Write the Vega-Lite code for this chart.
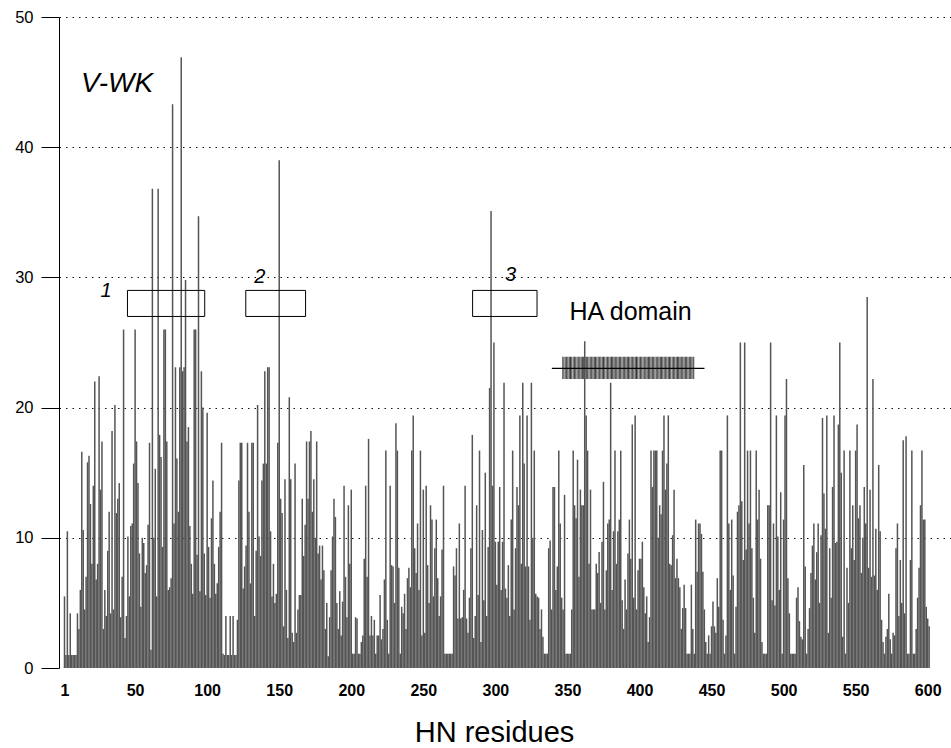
{
"$schema": "https://vega.github.io/schema/vega-lite/v6.json",
"width": 892, "height": 651,
"autosize": {"type": "none"},
"padding": {"left": 59, "top": 17, "right": 0, "bottom": 80},
"background": "white",
"config": {"view": {"stroke": null}, "font": "Liberation Sans"},
"resolve": {"axis": {"x": "independent", "y": "independent"}},
"layer": [
{
"data": {"values": [{"r": 346.4, "r2": 438, "v": 22.2, "v2": 23.9}]},
"mark": {"type": "rect", "fill": {"gradient": "linear", "x1": 0, "x2": 1, "y1": 0, "y2": 0, "stops": [
{"offset": 0, "color": "#3c3c3c"},{"offset": 0.0156, "color": "#a8a8a8"},{"offset": 0.0313, "color": "#505050"},{"offset": 0.0469, "color": "#a0a0a0"},
{"offset": 0.0625, "color": "#383838"},{"offset": 0.0781, "color": "#b0b0b0"},{"offset": 0.0938, "color": "#484848"},{"offset": 0.1094, "color": "#a8a8a8"},
{"offset": 0.125, "color": "#5a5a5a"},{"offset": 0.1406, "color": "#9c9c9c"},{"offset": 0.1563, "color": "#3a3a3a"},{"offset": 0.1719, "color": "#a8a8a8"},
{"offset": 0.1875, "color": "#444444"},{"offset": 0.2031, "color": "#b0b0b0"},{"offset": 0.2188, "color": "#505050"},{"offset": 0.2344, "color": "#a4a4a4"},
{"offset": 0.25, "color": "#3c3c3c"},{"offset": 0.2656, "color": "#a8a8a8"},{"offset": 0.2813, "color": "#585858"},{"offset": 0.2969, "color": "#a0a0a0"},
{"offset": 0.3125, "color": "#404040"},{"offset": 0.3281, "color": "#b0b0b0"},{"offset": 0.3438, "color": "#4c4c4c"},{"offset": 0.3594, "color": "#a8a8a8"},
{"offset": 0.375, "color": "#3a3a3a"},{"offset": 0.3906, "color": "#9c9c9c"},{"offset": 0.4063, "color": "#545454"},{"offset": 0.4219, "color": "#a8a8a8"},
{"offset": 0.4375, "color": "#404040"},{"offset": 0.4531, "color": "#b0b0b0"},{"offset": 0.4688, "color": "#4a4a4a"},{"offset": 0.4844, "color": "#a4a4a4"},
{"offset": 0.5, "color": "#3c3c3c"},{"offset": 0.5156, "color": "#a8a8a8"},{"offset": 0.5313, "color": "#565656"},{"offset": 0.5469, "color": "#a0a0a0"},
{"offset": 0.5625, "color": "#383838"},{"offset": 0.5781, "color": "#b0b0b0"},{"offset": 0.5938, "color": "#484848"},{"offset": 0.6094, "color": "#a8a8a8"},
{"offset": 0.625, "color": "#5a5a5a"},{"offset": 0.6406, "color": "#9c9c9c"},{"offset": 0.6563, "color": "#3a3a3a"},{"offset": 0.6719, "color": "#a8a8a8"},
{"offset": 0.6875, "color": "#444444"},{"offset": 0.7031, "color": "#b0b0b0"},{"offset": 0.7188, "color": "#505050"},{"offset": 0.7344, "color": "#a4a4a4"},
{"offset": 0.75, "color": "#3c3c3c"},{"offset": 0.7656, "color": "#a8a8a8"},{"offset": 0.7813, "color": "#585858"},{"offset": 0.7969, "color": "#a0a0a0"},
{"offset": 0.8125, "color": "#404040"},{"offset": 0.8281, "color": "#b0b0b0"},{"offset": 0.8438, "color": "#4c4c4c"},{"offset": 0.8594, "color": "#a8a8a8"},
{"offset": 0.875, "color": "#3a3a3a"},{"offset": 0.8906, "color": "#9c9c9c"},{"offset": 0.9063, "color": "#545454"},{"offset": 0.9219, "color": "#a8a8a8"},
{"offset": 0.9375, "color": "#404040"},{"offset": 0.9531, "color": "#b0b0b0"},{"offset": 0.9688, "color": "#4a4a4a"},{"offset": 0.9844, "color": "#a4a4a4"},
{"offset": 1, "color": "#3c3c3c"}]}},
"encoding": {
"x": {"field": "r", "type": "quantitative", "scale": {"domain": [0.66, 612.7], "nice": false, "zero": false}, "axis": null},
"x2": {"field": "r2"},
"y": {"field": "v", "type": "quantitative", "scale": {"domain": [0, 50], "nice": false}, "axis": null},
"y2": {"field": "v2"}
}
},
{
"data": {"values": [
{"r":1,"v":5.5},{"r":2,"v":1},{"r":3,"v":10.5},{"r":4,"v":1},{"r":5,"v":4.2},{"r":6,"v":1},{"r":7,"v":1},{"r":8,"v":1},{"r":9,"v":1},{"r":10,"v":4.2},
{"r":11,"v":3},{"r":12,"v":6},{"r":13,"v":16.6},{"r":14,"v":10.6},{"r":15,"v":4.5},{"r":16,"v":7},{"r":17,"v":15.8},{"r":18,"v":16.3},{"r":19,"v":12.6},{"r":20,"v":8},
{"r":21,"v":14},{"r":22,"v":22},{"r":23,"v":6.8},{"r":24,"v":8},{"r":25,"v":22.4},{"r":26,"v":13.7},{"r":27,"v":17.4},{"r":28,"v":3},{"r":29,"v":6},{"r":30,"v":4},
{"r":31,"v":9},{"r":32,"v":12},{"r":33,"v":4.2},{"r":34,"v":18.2},{"r":35,"v":4.5},{"r":36,"v":20.2},{"r":37,"v":11.9},{"r":38,"v":13},{"r":39,"v":14.2},{"r":40,"v":3.9},
{"r":41,"v":7},{"r":42,"v":26},{"r":43,"v":2.3},{"r":44,"v":4},{"r":45,"v":10.1},{"r":46,"v":5.5},{"r":47,"v":10.9},{"r":48,"v":11.1},{"r":49,"v":15.7},{"r":50,"v":26},
{"r":51,"v":17.4},{"r":52,"v":14.2},{"r":53,"v":8.8},{"r":54,"v":4.7},{"r":55,"v":10},{"r":56,"v":9.6},{"r":57,"v":7.3},{"r":58,"v":7.9},{"r":59,"v":11},{"r":60,"v":17.3},
{"r":61,"v":1.4},{"r":62,"v":36.8},{"r":63,"v":10},{"r":64,"v":15.3},{"r":65,"v":5.5},{"r":66,"v":36.8},{"r":67,"v":17.9},{"r":68,"v":16.2},{"r":69,"v":9.3},{"r":70,"v":26},
{"r":71,"v":26},{"r":72,"v":17.4},{"r":73,"v":6},{"r":74,"v":6.2},{"r":75,"v":6.9},{"r":76,"v":43.3},{"r":77,"v":11.1},{"r":78,"v":23.1},{"r":79,"v":16.1},{"r":80,"v":12},
{"r":81,"v":23.1},{"r":82,"v":46.9},{"r":83,"v":22.8},{"r":84,"v":23.1},{"r":85,"v":29.8},{"r":86,"v":17.4},{"r":87,"v":18.5},{"r":88,"v":10.9},{"r":89,"v":8},{"r":90,"v":5.7},
{"r":91,"v":26},{"r":92,"v":26},{"r":93,"v":8.7},{"r":94,"v":34.7},{"r":95,"v":5.9},{"r":96,"v":22.8},{"r":97,"v":20},{"r":98,"v":8.8},{"r":99,"v":5.6},{"r":100,"v":19.6},
{"r":101,"v":9.3},{"r":102,"v":5.4},{"r":103,"v":11.5},{"r":104,"v":14.4},{"r":105,"v":8},{"r":106,"v":5.7},{"r":107,"v":6.5},{"r":108,"v":9.3},{"r":109,"v":12},{"r":110,"v":17.3},
{"r":111,"v":1.1},{"r":112,"v":1},{"r":113,"v":4},{"r":114,"v":1},{"r":115,"v":1},{"r":116,"v":4},{"r":117,"v":1},{"r":118,"v":4},{"r":119,"v":1},{"r":120,"v":1},
{"r":121,"v":3.7},{"r":122,"v":14.4},{"r":123,"v":17.3},{"r":124,"v":17.3},{"r":125,"v":6.1},{"r":126,"v":7.8},{"r":127,"v":9.4},{"r":128,"v":17.3},{"r":129,"v":12},{"r":130,"v":6.5},
{"r":131,"v":17.3},{"r":132,"v":17.3},{"r":133,"v":4},{"r":134,"v":9},{"r":135,"v":20.2},{"r":136,"v":10.1},{"r":137,"v":8.6},{"r":138,"v":14.4},{"r":139,"v":15.7},{"r":140,"v":22.8},
{"r":141,"v":15.7},{"r":142,"v":23.1},{"r":143,"v":23.1},{"r":144,"v":10.5},{"r":145,"v":5.5},{"r":146,"v":8},{"r":147,"v":5},{"r":148,"v":5.7},{"r":149,"v":17.3},{"r":150,"v":39},
{"r":151,"v":13},{"r":152,"v":11.9},{"r":153,"v":3.2},{"r":154,"v":14.5},{"r":155,"v":6},{"r":156,"v":2.3},{"r":157,"v":20.8},{"r":158,"v":14.5},{"r":159,"v":2.7},{"r":160,"v":2},
{"r":161,"v":15.7},{"r":162,"v":2.7},{"r":163,"v":4.5},{"r":164,"v":5.6},{"r":165,"v":5.6},{"r":166,"v":13},{"r":167,"v":8.6},{"r":168,"v":11},{"r":169,"v":17.4},{"r":170,"v":13},
{"r":171,"v":17.4},{"r":172,"v":18.2},{"r":173,"v":12},{"r":174,"v":14.5},{"r":175,"v":10},{"r":176,"v":17.4},{"r":177,"v":8.8},{"r":178,"v":9.4},{"r":179,"v":6.8},{"r":180,"v":9.4},
{"r":181,"v":7.5},{"r":182,"v":3},{"r":183,"v":5},{"r":184,"v":0.9},{"r":185,"v":3.9},{"r":186,"v":7.5},{"r":187,"v":10.1},{"r":188,"v":13},{"r":189,"v":11.6},{"r":190,"v":5},
{"r":191,"v":3},{"r":192,"v":5.9},{"r":193,"v":2.5},{"r":194,"v":5.1},{"r":195,"v":14},{"r":196,"v":7},{"r":197,"v":3.9},{"r":198,"v":12.5},{"r":199,"v":8},{"r":200,"v":13.7},
{"r":201,"v":1.1},{"r":202,"v":1.1},{"r":203,"v":3.9},{"r":204,"v":3.8},{"r":205,"v":1.1},{"r":206,"v":1.1},{"r":207,"v":2},{"r":208,"v":2.5},{"r":209,"v":8.4},{"r":210,"v":14},
{"r":211,"v":7},{"r":212,"v":17.6},{"r":213,"v":2.5},{"r":214,"v":4},{"r":215,"v":2.5},{"r":216,"v":3.7},{"r":217,"v":1.1},{"r":218,"v":2.5},{"r":219,"v":2.5},{"r":220,"v":5.6},
{"r":221,"v":2.2},{"r":222,"v":3},{"r":223,"v":6.8},{"r":224,"v":16.7},{"r":225,"v":3.7},{"r":226,"v":1.1},{"r":227,"v":14},{"r":228,"v":7.9},{"r":229,"v":7.8},{"r":230,"v":5},
{"r":231,"v":18.8},{"r":232,"v":16.7},{"r":233,"v":7.7},{"r":234,"v":1.1},{"r":235,"v":4.7},{"r":236,"v":4.2},{"r":237,"v":5.7},{"r":238,"v":3},{"r":239,"v":6.9},{"r":240,"v":7.7},
{"r":241,"v":6.2},{"r":242,"v":16.7},{"r":243,"v":19.4},{"r":244,"v":9.2},{"r":245,"v":7.3},{"r":246,"v":11.1},{"r":247,"v":6},{"r":248,"v":16.7},{"r":249,"v":2.5},{"r":250,"v":13.7},
{"r":251,"v":2.7},{"r":252,"v":14},{"r":253,"v":7.9},{"r":254,"v":5},{"r":255,"v":12.5},{"r":256,"v":11.4},{"r":257,"v":5.5},{"r":258,"v":9.2},{"r":259,"v":11.4},{"r":260,"v":6.9},
{"r":261,"v":4},{"r":262,"v":5.5},{"r":263,"v":9.1},{"r":264,"v":14},{"r":265,"v":1.1},{"r":266,"v":1.1},{"r":267,"v":1.1},{"r":268,"v":1.1},{"r":269,"v":1.1},{"r":270,"v":1.1},
{"r":271,"v":7.8},{"r":272,"v":7.1},{"r":273,"v":9.2},{"r":274,"v":3.8},{"r":275,"v":11.1},{"r":276,"v":3.8},{"r":277,"v":3.9},{"r":278,"v":6},{"r":279,"v":14},{"r":280,"v":3.8},
{"r":281,"v":2.7},{"r":282,"v":5.4},{"r":283,"v":9.2},{"r":284,"v":17.9},{"r":285,"v":2.3},{"r":286,"v":4},{"r":287,"v":12.5},{"r":288,"v":5.6},{"r":289,"v":16.7},{"r":290,"v":2},
{"r":291,"v":10.6},{"r":292,"v":5.2},{"r":293,"v":15},{"r":294,"v":4},{"r":295,"v":9.3},{"r":296,"v":21.5},{"r":297,"v":35.1},{"r":298,"v":14},{"r":299,"v":25},{"r":300,"v":9.7},
{"r":301,"v":6.4},{"r":302,"v":9.7},{"r":303,"v":13.9},{"r":304,"v":6},{"r":305,"v":9.7},{"r":306,"v":21.9},{"r":307,"v":6.1},{"r":308,"v":5.4},{"r":309,"v":7.9},{"r":310,"v":4},
{"r":311,"v":11.4},{"r":312,"v":16.7},{"r":313,"v":4.5},{"r":314,"v":9.2},{"r":315,"v":13.9},{"r":316,"v":12.5},{"r":317,"v":19.4},{"r":318,"v":8},{"r":319,"v":21.9},{"r":320,"v":15.7},
{"r":321,"v":7.8},{"r":322,"v":19.4},{"r":323,"v":7.8},{"r":324,"v":3.7},{"r":325,"v":21.9},{"r":326,"v":10},{"r":327,"v":16.7},{"r":328,"v":5.7},{"r":329,"v":5.5},{"r":330,"v":5.4},
{"r":331,"v":3},{"r":332,"v":4.5},{"r":333,"v":2.4},{"r":334,"v":1.1},{"r":335,"v":1.1},{"r":336,"v":1.1},{"r":337,"v":9.2},{"r":338,"v":9.8},{"r":339,"v":4.5},{"r":340,"v":13.9},
{"r":341,"v":13.9},{"r":342,"v":6},{"r":343,"v":7.8},{"r":344,"v":16.7},{"r":345,"v":11.1},{"r":346,"v":5.4},{"r":347,"v":4.5},{"r":348,"v":13.3},{"r":349,"v":1.1},{"r":350,"v":1.1},
{"r":351,"v":1.1},{"r":352,"v":1.1},{"r":353,"v":4.5},{"r":354,"v":16.7},{"r":355,"v":12.5},{"r":356,"v":11.5},{"r":357,"v":16},{"r":358,"v":7},{"r":359,"v":13.7},{"r":360,"v":12.5},
{"r":361,"v":12.5},{"r":362,"v":25.1},{"r":363,"v":19.4},{"r":364,"v":16.7},{"r":365,"v":8},{"r":366,"v":13.7},{"r":367,"v":4.5},{"r":368,"v":4.5},{"r":369,"v":4.5},{"r":370,"v":8},
{"r":371,"v":7.3},{"r":372,"v":8.9},{"r":373,"v":5},{"r":374,"v":9.7},{"r":375,"v":14.3},{"r":376,"v":4.5},{"r":377,"v":7.5},{"r":378,"v":11.1},{"r":379,"v":11.4},{"r":380,"v":21.9},
{"r":381,"v":6},{"r":382,"v":10.5},{"r":383,"v":16.7},{"r":384,"v":8},{"r":385,"v":10.5},{"r":386,"v":11.4},{"r":387,"v":16.7},{"r":388,"v":5.2},{"r":389,"v":3},{"r":390,"v":6.8},
{"r":391,"v":4.5},{"r":392,"v":8.8},{"r":393,"v":11.4},{"r":394,"v":8.4},{"r":395,"v":18.7},{"r":396,"v":5.4},{"r":397,"v":19.4},{"r":398,"v":4.5},{"r":399,"v":7.5},{"r":400,"v":8.4},
{"r":401,"v":8.4},{"r":402,"v":9.7},{"r":403,"v":6.2},{"r":404,"v":4.2},{"r":405,"v":5.5},{"r":406,"v":2},{"r":407,"v":3.9},{"r":408,"v":16.7},{"r":409,"v":13.9},{"r":410,"v":16.7},
{"r":411,"v":16.7},{"r":412,"v":16.7},{"r":413,"v":10},{"r":414,"v":12.5},{"r":415,"v":11.8},{"r":416,"v":16.7},{"r":417,"v":19.4},{"r":418,"v":13.7},{"r":419,"v":15.7},{"r":420,"v":19.4},
{"r":421,"v":8},{"r":422,"v":7.9},{"r":423,"v":10.2},{"r":424,"v":13.7},{"r":425,"v":6.9},{"r":426,"v":8.4},{"r":427,"v":6.9},{"r":428,"v":6.2},{"r":429,"v":3},{"r":430,"v":4.6},
{"r":431,"v":6.4},{"r":432,"v":4.6},{"r":433,"v":1.1},{"r":434,"v":1.1},{"r":435,"v":1.1},{"r":436,"v":6.4},{"r":437,"v":3},{"r":438,"v":1.1},{"r":439,"v":11.4},{"r":440,"v":7.4},
{"r":441,"v":11.1},{"r":442,"v":11.1},{"r":443,"v":10.3},{"r":444,"v":7.4},{"r":445,"v":4.5},{"r":446,"v":2},{"r":447,"v":1.1},{"r":448,"v":2.5},{"r":449,"v":1.1},{"r":450,"v":3.2},
{"r":451,"v":5.1},{"r":452,"v":3.2},{"r":453,"v":2.7},{"r":454,"v":6.9},{"r":455,"v":4.7},{"r":456,"v":16.7},{"r":457,"v":16.7},{"r":458,"v":3.7},{"r":459,"v":1.1},{"r":460,"v":2.5},
{"r":461,"v":19.4},{"r":462,"v":11.1},{"r":463,"v":6},{"r":464,"v":11.4},{"r":465,"v":7.1},{"r":466,"v":1.1},{"r":467,"v":4.7},{"r":468,"v":12},{"r":469,"v":12.5},{"r":470,"v":25},
{"r":471,"v":12.8},{"r":472,"v":8.3},{"r":473,"v":25},{"r":474,"v":9.1},{"r":475,"v":16.7},{"r":476,"v":11.1},{"r":477,"v":16.7},{"r":478,"v":9.2},{"r":479,"v":5.4},{"r":480,"v":2.7},
{"r":481,"v":16.7},{"r":482,"v":11.4},{"r":483,"v":13.7},{"r":484,"v":8.4},{"r":485,"v":2},{"r":486,"v":1.1},{"r":487,"v":1.1},{"r":488,"v":1.1},{"r":489,"v":12.5},{"r":490,"v":12.5},
{"r":491,"v":25},{"r":492,"v":5.2},{"r":493,"v":11.1},{"r":494,"v":4.8},{"r":495,"v":19.4},{"r":496,"v":10.1},{"r":497,"v":6},{"r":498,"v":13.5},{"r":499,"v":1.1},{"r":500,"v":11.4},
{"r":501,"v":19.4},{"r":502,"v":22.2},{"r":503,"v":6.9},{"r":504,"v":4.2},{"r":505,"v":1.1},{"r":506,"v":1.1},{"r":507,"v":1.1},{"r":508,"v":1.1},{"r":509,"v":5.4},{"r":510,"v":6.2},
{"r":511,"v":3.6},{"r":512,"v":2.4},{"r":513,"v":2.2},{"r":514,"v":15.6},{"r":515,"v":7.8},{"r":516,"v":1.1},{"r":517,"v":3},{"r":518,"v":4.6},{"r":519,"v":7.3},{"r":520,"v":9.4},
{"r":521,"v":11.1},{"r":522,"v":6.8},{"r":523,"v":8.9},{"r":524,"v":11.1},{"r":525,"v":5},{"r":526,"v":10.2},{"r":527,"v":19.2},{"r":528,"v":13.4},{"r":529,"v":10.7},{"r":530,"v":19.4},
{"r":531,"v":2.7},{"r":532,"v":9.2},{"r":533,"v":5.4},{"r":534,"v":13.9},{"r":535,"v":19.4},{"r":536,"v":9.6},{"r":537,"v":9.7},{"r":538,"v":18.7},{"r":539,"v":25},{"r":540,"v":15},
{"r":541,"v":2.4},{"r":542,"v":16.7},{"r":543,"v":1.1},{"r":544,"v":7.7},{"r":545,"v":5},{"r":546,"v":16.7},{"r":547,"v":9.2},{"r":548,"v":12.5},{"r":549,"v":8.3},{"r":550,"v":16.7},
{"r":551,"v":18.7},{"r":552,"v":11.5},{"r":553,"v":12.5},{"r":554,"v":7.3},{"r":555,"v":10},{"r":556,"v":13.9},{"r":557,"v":11.1},{"r":558,"v":28.5},{"r":559,"v":7.7},{"r":560,"v":13.7},
{"r":561,"v":7},{"r":562,"v":22.2},{"r":563,"v":7.1},{"r":564,"v":10.7},{"r":565,"v":6},{"r":566,"v":15.6},{"r":567,"v":10.5},{"r":568,"v":3.7},{"r":569,"v":2},{"r":570,"v":1.1},
{"r":571,"v":2.4},{"r":572,"v":3},{"r":573,"v":5.7},{"r":574,"v":2.2},{"r":575,"v":1.1},{"r":576,"v":2.7},{"r":577,"v":2.5},{"r":578,"v":9.2},{"r":579,"v":11.1},{"r":580,"v":4},
{"r":581,"v":8.3},{"r":582,"v":5},{"r":583,"v":17.5},{"r":584,"v":4.2},{"r":585,"v":17.8},{"r":586,"v":1.1},{"r":587,"v":1.1},{"r":588,"v":8.3},{"r":589,"v":16.7},{"r":590,"v":1.1},
{"r":591,"v":1.1},{"r":592,"v":3},{"r":593,"v":5.4},{"r":594,"v":7.7},{"r":595,"v":12.5},{"r":596,"v":16.7},{"r":597,"v":11.4},{"r":598,"v":11.4},{"r":599,"v":4.7},{"r":600,"v":3.8},
{"r":601,"v":3.2}
]},
"mark": {"type": "bar", "width": 1.5, "color": "#555555"},
"encoding": {
"x": {"field": "r", "type": "quantitative", "scale": {"domain": [0.66, 612.7], "nice": false, "zero": false},
 "axis": {"values": [1,50,100,150,200,250,300,350,400,450,500,550,600], "title": "HN residues", "grid": false, "ticks": false, "tickSize": 0, "domain": false,
  "labelFont": "Liberation Sans", "labelFontWeight": "bold", "labelFontSize": 16, "labelColor": "black", "labelPadding": 22, "labelBaseline": "middle", "labelFlush": false, "labelOverlap": false,
  "titleFont": "Liberation Sans", "titleFontSize": 29, "titleFontWeight": "normal", "titleColor": "black", "titleX": 435, "titleY": 73, "titleBaseline": "alphabetic", "titleAlign": "center"}},
"y": {"field": "v", "type": "quantitative", "scale": {"domain": [0, 50], "nice": false},
 "axis": {"values": [0,10,20,30,40,50], "title": null, "grid": true, "gridDash": [1.5,5], "gridColor": {"condition": {"test": "datum.value === 0", "value": "transparent"}, "value": "#111111"}, "gridWidth": 1,
  "tickSize": 18, "tickColor": "black", "tickWidth": 1, "domainColor": "black", "domainWidth": 1,
  "labelFont": "Liberation Sans", "labelFontSize": 16.5, "labelColor": "black", "labelPadding": 8, "labelFlush": false}}
}
},
{
"mark": {"type": "rule", "color": "black", "strokeWidth": 1.5},
"encoding": {
"x": {"datum": 0.66, "type": "quantitative", "scale": {"domain": [0.66, 612.7], "nice": false, "zero": false}, "axis": null},
"x2": {"datum": 601.6},
"y": {"datum": 0, "type": "quantitative", "scale": {"domain": [0, 50], "nice": false}, "axis": null}
}
},
{
"data": {"values": [{"r": 339.2, "r2": 445.1, "v": 23.02}]},
"mark": {"type": "rule", "color": "black", "strokeWidth": 1.2},
"encoding": {
"x": {"field": "r", "type": "quantitative", "scale": {"domain": [0.66, 612.7], "nice": false, "zero": false}, "axis": null},
"x2": {"field": "r2"},
"y": {"field": "v", "type": "quantitative", "scale": {"domain": [0, 50], "nice": false}, "axis": null}
}
},
{
"data": {"values": [{"r": 44.7, "r2": 98.3, "v": 27, "v2": 29}, {"r": 126.8, "r2": 168.3, "v": 27, "v2": 29}, {"r": 284.2, "r2": 328.9, "v": 27, "v2": 29}]},
"mark": {"type": "rect", "fillOpacity": 0, "stroke": "black", "strokeWidth": 1},
"encoding": {
"x": {"field": "r", "type": "quantitative", "scale": {"domain": [0.66, 612.7], "nice": false, "zero": false}, "axis": null},
"x2": {"field": "r2"},
"y": {"field": "v", "type": "quantitative", "scale": {"domain": [0, 50], "nice": false}, "axis": null},
"y2": {"field": "v2"}
}
},
{
"data": {"values": [{"r": 29.8, "v": 28.5, "label": "1"}, {"r": 136.5, "v": 29.6, "label": "2"}, {"r": 310.5, "v": 29.7, "label": "3"}]},
"mark": {"type": "text", "font": "Liberation Sans", "fontStyle": "italic", "fontSize": 20, "align": "center", "baseline": "alphabetic", "color": "black"},
"encoding": {
"x": {"field": "r", "type": "quantitative", "scale": {"domain": [0.66, 612.7], "nice": false, "zero": false}, "axis": null},
"y": {"field": "v", "type": "quantitative", "scale": {"domain": [0, 50], "nice": false}, "axis": null},
"text": {"field": "label"}
}
},
{
"data": {"values": [{"r": 12.5, "v": 44.24, "label": "V-WK"}]},
"mark": {"type": "text", "font": "Liberation Sans", "fontStyle": "italic", "fontSize": 28, "align": "left", "baseline": "alphabetic", "color": "black"},
"encoding": {
"x": {"field": "r", "type": "quantitative", "scale": {"domain": [0.66, 612.7], "nice": false, "zero": false}, "axis": null},
"y": {"field": "v", "type": "quantitative", "scale": {"domain": [0, 50], "nice": false}, "axis": null},
"text": {"field": "label"}
}
},
{
"data": {"values": [{"r": 351.4, "v": 26.73, "label": "HA domain"}]},
"mark": {"type": "text", "font": "Liberation Sans", "fontSize": 25, "align": "left", "baseline": "alphabetic", "color": "black"},
"encoding": {
"x": {"field": "r", "type": "quantitative", "scale": {"domain": [0.66, 612.7], "nice": false, "zero": false}, "axis": null},
"y": {"field": "v", "type": "quantitative", "scale": {"domain": [0, 50], "nice": false}, "axis": null},
"text": {"field": "label"}
}
}
]
}
